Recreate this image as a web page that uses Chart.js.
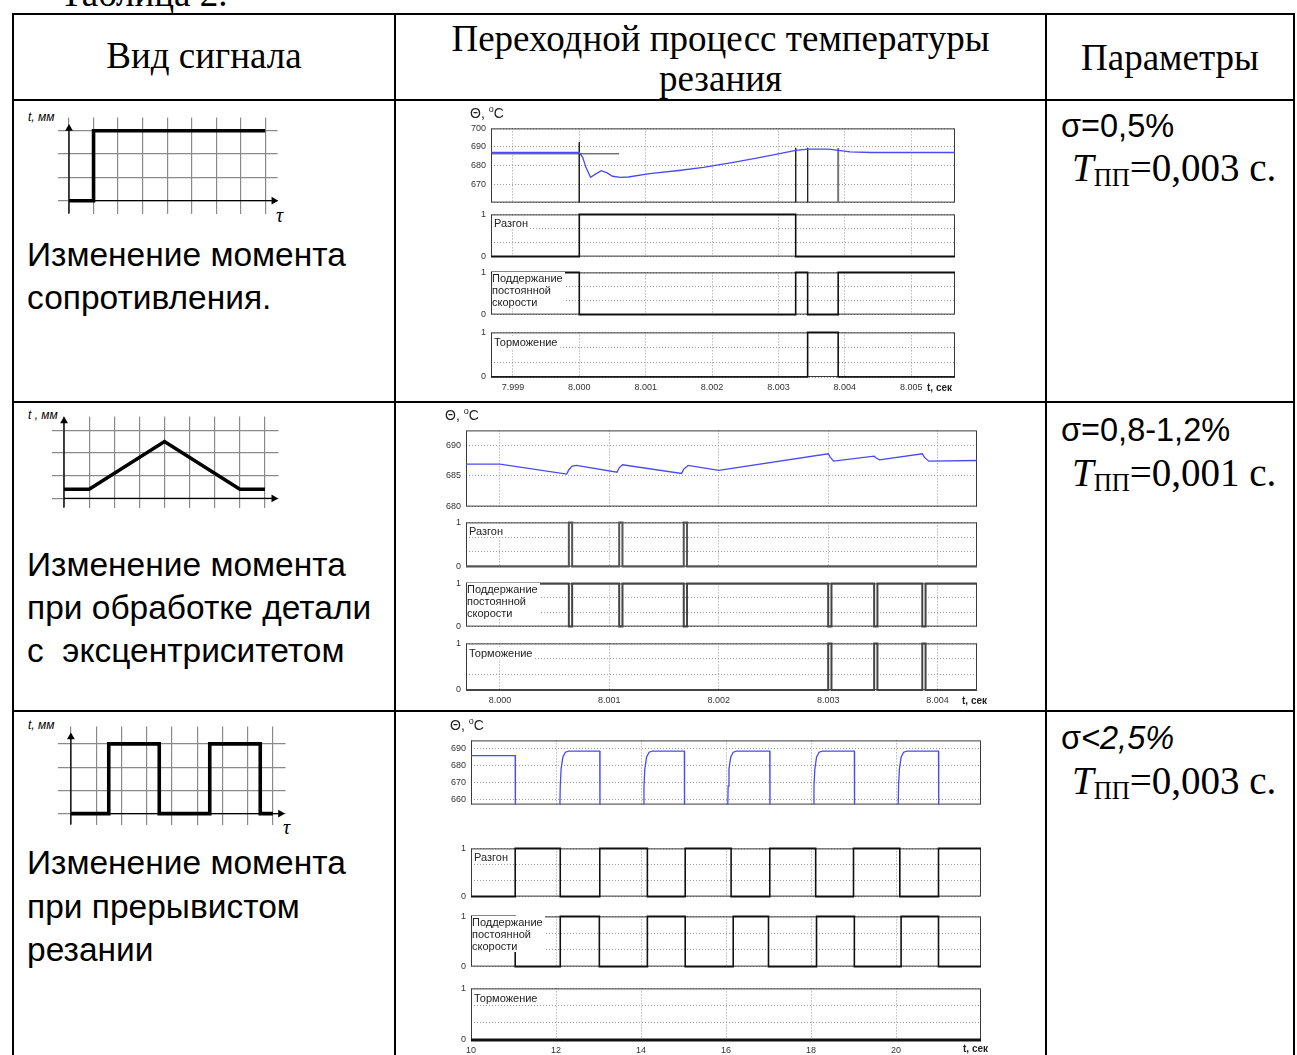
<!DOCTYPE html>
<html>
<head>
<meta charset="utf-8">
<script src="https://cdn.jsdelivr.net/npm/chart.js"></script>
<style>
body{margin:0;background:#fff;width:1297px;height:1055px;overflow:hidden;position:relative;font-family:"Liberation Sans",Arial,sans-serif}
.ln{position:absolute;background:#000}
.t{position:absolute;white-space:nowrap;color:#000;line-height:40px;font-size:33.5px}
.p{font-size:32.5px}
.serif{font-family:"Liberation Serif","Times New Roman",serif;font-size:37px}
.tp{font-size:39px}
.c{text-align:center}
.lbl{position:absolute;font-size:11px;line-height:12px;background:#fff;color:#222;white-space:nowrap;padding-right:2px}
.ax{position:absolute;font-size:14px;color:#222;white-space:nowrap}
.unit{position:absolute;font-size:10px;font-weight:bold;color:#222;white-space:nowrap}
.sk{position:absolute;font-size:12px;font-style:italic;white-space:nowrap}
.tau{position:absolute;font-family:"Liberation Serif",serif;font-style:italic;font-size:20px}
sub{font-size:25px;vertical-align:-5px;font-style:normal}
</style>
</head>
<body>
<div class="t serif" style="left:60px;top:-26px">Таблица 2.</div>

<!-- table lines -->
<div class="ln" style="left:12px;top:13px;width:1283px;height:2px"></div>
<div class="ln" style="left:12px;top:13px;width:2px;height:1042px"></div>
<div class="ln" style="left:394px;top:13px;width:2px;height:1042px"></div>
<div class="ln" style="left:1045px;top:13px;width:2px;height:1042px"></div>
<div class="ln" style="left:1293px;top:13px;width:2px;height:1042px"></div>
<div class="ln" style="left:12px;top:99px;width:1283px;height:2px"></div>
<div class="ln" style="left:12px;top:401px;width:1283px;height:2px"></div>
<div class="ln" style="left:12px;top:710px;width:1283px;height:2px"></div>

<!-- header -->
<div class="t serif c" style="left:14px;width:380px;top:36px">Вид сигнала</div>
<div class="t serif c" style="left:396px;width:649px;top:19px">Переходной процесс температуры</div>
<div class="t serif c" style="left:396px;width:649px;top:59px">резания</div>
<div class="t serif c" style="left:1047px;width:246px;top:38px">Параметры</div>

<!-- left column text -->
<div class="t" style="left:27px;top:235px">Изменение момента</div>
<div class="t" style="left:27px;top:278px">сопротивления.</div>
<div class="t" style="left:27px;top:545px">Изменение момента</div>
<div class="t" style="left:27px;top:588px">при обработке детали</div>
<div class="t" style="left:27px;top:631px">с&nbsp; эксцентриситетом</div>
<div class="t" style="left:27px;top:843px">Изменение момента</div>
<div class="t" style="left:27px;top:887px">при прерывистом</div>
<div class="t" style="left:27px;top:930px">резании</div>

<!-- parameters -->
<div class="t p" style="left:1061px;top:106px">σ=0,5%</div>
<div class="t serif tp" style="left:1072px;top:148px"><i>T</i><sub>ПП</sub>=0,003 с.</div>
<div class="t p" style="left:1061px;top:410px">σ=0,8-1,2%</div>
<div class="t serif tp" style="left:1072px;top:453px"><i>T</i><sub>ПП</sub>=0,001 с.</div>
<div class="t p" style="left:1061px;top:718px">σ<i>&lt;2,5%</i></div>
<div class="t serif tp" style="left:1072px;top:761px"><i>T</i><sub>ПП</sub>=0,003 с.</div>

<!-- sketch labels -->
<div class="sk" style="left:28px;top:110px">t, мм</div>
<div class="tau" style="left:276px;top:204px">τ</div>
<div class="sk" style="left:28px;top:408px">t , мм</div>
<div class="sk" style="left:28px;top:718px">t, мм</div>
<div class="tau" style="left:283px;top:816px">τ</div>

<script>
// ---- sketches of the input signal (grid units) ----
const sk1X = [0, 1, 1, 8];
const sk1Y = [0, 0, 3, 3];
const sk2X = [0, 1, 4, 7, 8];
const sk2Y = [0.4, 0.4, 2.5, 0.4, 0.4];
const sk3X = [0, 1.5, 1.5, 3.5, 3.5, 5.5, 5.5, 7.5, 7.5, 8];
const sk3Y = [0, 0, 3, 3, 0, 0, 3, 3, 0, 0];
const skGridX = [0, 1, 2, 3, 4, 5, 6, 7, 8];
const skGridY = [0, 1, 2, 3];

// ---- row 1: step load change ----
const r1XTicks = [7.999, 8.000, 8.001, 8.002, 8.003, 8.004, 8.005];
const r1XLabels = ['7.999', '8.000', '8.001', '8.002', '8.003', '8.004', '8.005'];
const r1Time = [7.99867, 8.0000, 8.00005, 8.0001, 8.00017, 8.00025, 8.00033, 8.00042, 8.0005, 8.00062, 8.00074, 8.00106, 8.0015, 8.00187, 8.0023, 8.00267, 8.0030, 8.00326, 8.00345, 8.00376, 8.0039, 8.00408, 8.0044, 8.00566];
const r1Temp = [687, 687, 684.5, 679, 673.6, 675.5, 677.2, 676, 674.2, 673.6, 673.8, 675.6, 677.3, 679, 681.6, 684, 686.3, 688.2, 688.8, 688.8, 688.2, 687.3, 687, 687];
const r1RefTime = [7.99867, 8.0006];
const r1RefTemp = [686.3, 686.3];
const r1MarkTime = [8.000, 8.00326, 8.00344, 8.0039];
const r1MarkTop = [692.5, 689.5, 689.5, 689.5];
const r1YTicks = [660, 670, 680, 690, 700];
const r1YLabels = ['', '670', '680', '690', '700'];
const r1RazT = [7.99867, 8.000, 8.00326, 8.00566];
const r1RazV = [0, 1, 0, 0];
const r1PodT = [7.99867, 8.000, 8.00326, 8.00344, 8.0039, 8.00566];
const r1PodV = [1, 0, 1, 0, 1, 1];
const r1TorT = [7.99867, 8.00344, 8.0039, 8.00566];
const r1TorV = [0, 1, 0, 0];

// ---- row 2: eccentric workpiece ----
const r2XTicks = [8.000, 8.001, 8.002, 8.003, 8.004];
const r2XLabels = ['8.000', '8.001', '8.002', '8.003', '8.004'];
const r2Time = [7.99969, 8.0000, 8.00061, 8.00063, 8.00066, 8.0007, 8.00107, 8.00109, 8.00112, 8.00166, 8.00168, 8.00172, 8.002, 8.003, 8.00302, 8.00305, 8.00342, 8.00344, 8.00347, 8.00386, 8.00388, 8.00392, 8.00436];
const r2Temp = [686.9, 686.9, 685.3, 686.0, 686.6, 686.7, 685.6, 686.3, 686.8, 685.4, 686.1, 686.7, 685.9, 688.6, 688.0, 687.4, 688.2, 687.9, 687.6, 688.6, 688.0, 687.4, 687.5];
const r2YTicks = [680, 685, 690];
const r2YLabels = ['680', '685', '690'];
const r2RazT = [7.99969, 8.00063, 8.00066, 8.00109, 8.00112, 8.00168, 8.00171, 8.00436];
const r2RazV = [0, 1, 0, 1, 0, 1, 0, 0];
const r2PodT = [7.99969, 8.00063, 8.00066, 8.00109, 8.00112, 8.00168, 8.00171, 8.003, 8.00303, 8.00342, 8.00345, 8.00386, 8.00389, 8.00436];
const r2PodV = [1, 0, 1, 0, 1, 0, 1, 0, 1, 0, 1, 0, 1, 1];
const r2TorT = [7.99969, 8.003, 8.00303, 8.00342, 8.00345, 8.00386, 8.00389, 8.00436];
const r2TorV = [0, 1, 0, 1, 0, 1, 0, 0];

// ---- row 3: interrupted cutting ----
const r3XTicks = [10, 12, 14, 16, 18, 20];
const r3XLabels = ['10', '12', '14', '16', '18', '20'];
const r3Time = [10, 11.04, 11.045, 12.08, 12.1, 12.12, 12.16, 12.22, 12.3, 13.03, 13.035,
  14.05, 14.07, 14.09, 14.13, 14.19, 14.27, 15.02, 15.025,
  16.03, 16.05, 16.07, 16.11, 16.17, 16.25, 17.03, 17.035,
  18.05, 18.07, 18.09, 18.13, 18.19, 18.27, 19.02, 19.025,
  20.04, 20.06, 20.08, 20.12, 20.18, 20.26, 21.0, 21.005, 22];
const r3Temp = [686, 686, 640, 640, 668, 678, 685, 688, 688.6, 688.6, 640,
  640, 668, 678, 685, 688, 688.6, 688.6, 640,
  640, 668, 678, 685, 688, 688.6, 688.6, 640,
  640, 668, 678, 685, 688, 688.6, 688.6, 640,
  640, 668, 678, 685, 688, 688.6, 688.6, 640, 640];
const r3YTicks = [660, 670, 680, 690];
const r3YLabels = ['660', '670', '680', '690'];
const r3RazT = [10, 11.04, 12.1, 13.03, 14.15, 15.04, 16.12, 17.03, 18.11, 19.0, 20.09, 21.0, 22];
const r3RazV = [0, 1, 0, 1, 0, 1, 0, 1, 0, 1, 0, 1, 1];
const r3PodT = [10, 11.04, 12.1, 13.02, 14.15, 15.04, 16.17, 17.0, 18.13, 19.02, 20.12, 21.0, 22];
const r3PodV = [1, 0, 1, 0, 1, 0, 1, 0, 1, 0, 1, 0, 0];
const r3TorT = [10, 22];
const r3TorV = [0, 0];

const stateTicks = [0, 1 / 3, 2 / 3, 1];
const stateLabels = ['0', '', '', '1'];

Chart.defaults.font.family = '"Liberation Sans", Arial, sans-serif';

function pts(xs, ys) { return xs.map((x, i) => ({x: x, y: ys[i]})); }

function addCanvas(left, top, w, h) {
  const c = document.createElement('canvas');
  c.width = w; c.height = h;
  c.style.cssText = 'position:absolute;left:' + left + 'px;top:' + top + 'px;width:' + w + 'px;height:' + h + 'px';
  document.body.appendChild(c);
  return c;
}

function addText(cls, left, top, txt) {
  const d = document.createElement('div');
  d.className = cls;
  d.style.left = left + 'px'; d.style.top = top + 'px';
  d.innerHTML = txt;
  document.body.appendChild(d);
}

// box round each plot area
const frame = {
  id: 'frame',
  beforeDatasetsDraw(ch) {
    const a = ch.chartArea, c = ch.ctx;
    c.save();
    c.strokeStyle = '#3a3a3a'; c.lineWidth = 1;
    c.strokeRect(a.left + 0.5, a.top + 0.5, a.right - a.left - 1, a.bottom - a.top - 1);
    c.restore();
  }
};

const YW = 30;
const tickFont = {size: 9};

// one sub-plot of a panel; x0..x1, y0..y1 = plot area on the page
function subPlot(g, y0, y1, o) {
  const showX = !!o.showX;
  const padB = showX ? 0 : 7, xh = showX ? 20 : 0;
  const cv = addCanvas(g.x0 - YW, y0 - 7, (g.x1 - g.x0) + YW + 6, (y1 - y0) + 7 + padB + xh);
  return new Chart(cv, {
    type: 'line',
    data: {datasets: o.datasets},
    options: {
      responsive: false, animation: false, events: [],
      layout: {padding: {top: 7, bottom: padB, left: 0, right: 6}},
      plugins: {legend: {display: false}, tooltip: {enabled: false}},
      elements: {point: {radius: 0}, line: {tension: 0}},
      scales: {
        x: {
          type: 'linear', min: g.xMin, max: g.xMax,
          afterBuildTicks: s => { s.ticks = g.xTicks.map(v => ({value: v})); },
          afterFit: s => { s.height = xh; },
          ticks: {display: showX, autoSkip: false, maxRotation: 0, font: tickFont, color: '#333', padding: 5,
                  callback: (v, i) => g.xLabels[i]},
          grid: {color: '#9a9a9a', drawTicks: false},
          border: {display: false, dash: [1, 2]}
        },
        y: {
          min: o.yMin, max: o.yMax,
          afterBuildTicks: s => { s.ticks = o.yTicks.map(v => ({value: v})); },
          afterFit: s => { s.width = YW; },
          ticks: {autoSkip: false, font: tickFont, color: '#333', padding: 5,
                  callback: (v, i) => o.yLabels[i]},
          grid: {color: '#9a9a9a', drawTicks: false},
          border: {display: false, dash: [1, 2]}
        }
      }
    },
    plugins: [frame]
  });
}

function stepSet(ts, vs, color, w) {
  return {data: pts(ts, vs), borderColor: color || '#111', borderWidth: w || 1.6, stepped: true, clip: 2};
}
function tempSet(ts, vs) {
  return {data: pts(ts, vs), borderColor: '#4a4af2', borderWidth: 1.3};
}
function stateOpts(ds, showX) {
  return {yMin: 0, yMax: 1, yTicks: stateTicks, yLabels: stateLabels, datasets: ds, showX: showX};
}

function panel(g, top, subs, temp, sets) {
  subPlot(g, top[0], top[1], temp);
  subPlot(g, subs[0][0], subs[0][1], stateOpts([sets[0]], false));
  subPlot(g, subs[1][0], subs[1][1], stateOpts([sets[1]], false));
  subPlot(g, subs[2][0], subs[2][1], stateOpts([sets[2]], true));
  addText('ax', g.x0 - 21, top[0] - 21, 'Θ, <sup style="font-size:9px">o</sup>C');
  addText('lbl', g.x0 + 3, subs[0][0] + 6, 'Разгон');
  addText('lbl', g.x0 + 1, subs[1][0] + 3, 'Поддержание<br>постоянной<br>скорости');
  addText('lbl', g.x0 + 3, subs[2][0] + 7, 'Торможение');
}

// ---- panel 1 ----
const g1 = {x0: 491, x1: 955, xMin: 7.99867, xMax: 8.00566, xTicks: r1XTicks, xLabels: r1XLabels};
const r1Marks = r1MarkTime.map((t, i) => ({data: pts([t, t], [r1MarkTop[i], 660]), borderColor: i === 3 ? '#777' : '#222', borderWidth: i === 3 ? 2 : 1}));
panel(g1, [125, 206], [[211, 260], [269, 318], [329, 377]],
  {yMin: 660, yMax: 700, yTicks: r1YTicks, yLabels: r1YLabels,
   datasets: [tempSet(r1Time, r1Temp), {data: pts(r1RefTime, r1RefTemp), borderColor: '#333', borderWidth: 1}].concat(r1Marks)},
  [stepSet(r1RazT, r1RazV), stepSet(r1PodT, r1PodV), stepSet(r1TorT, r1TorV)]);
addText('unit', 927, 382, 't, сек');

// ---- panel 2 ----
const g2 = {x0: 466, x1: 977, xMin: 7.99969, xMax: 8.00436, xTicks: r2XTicks, xLabels: r2XLabels};
panel(g2, [427, 510], [[519, 570], [580, 630], [640, 690]],
  {yMin: 680, yMax: 692.4, yTicks: r2YTicks, yLabels: r2YLabels, datasets: [tempSet(r2Time, r2Temp)]},
  [stepSet(r2RazT, r2RazV, '#555', 2), stepSet(r2PodT, r2PodV, '#444', 2), stepSet(r2TorT, r2TorV, '#444', 2)]);
addText('unit', 962, 695, 't, сек');

// ---- panel 3 ----
const g3 = {x0: 471, x1: 981, xMin: 10, xMax: 22, xTicks: r3XTicks, xLabels: r3XLabels};
panel(g3, [737, 808], [[845, 900], [913, 970], [985, 1040]],
  {yMin: 657, yMax: 695, yTicks: r3YTicks, yLabels: r3YLabels, datasets: [tempSet(r3Time, r3Temp)]},
  [stepSet(r3RazT, r3RazV), stepSet(r3PodT, r3PodV), stepSet(r3TorT, r3TorV, '#111', 3)]);
addText('unit', 963, 1043, 't, сек');

// ---- signal sketches ----
function sketch(area, xs, ys, xTip, yTip) {
  const cv = addCanvas(area.left, area.top, area.w, area.h);
  const arrow = (rot) => ({pointRadius: [0, 4.5], pointStyle: 'triangle', pointRotation: rot,
    pointBackgroundColor: '#000', pointBorderWidth: 0, borderColor: '#000', borderWidth: 1.3, clip: false});
  new Chart(cv, {
    type: 'line',
    data: {datasets: [
      {data: pts(xs, ys), borderColor: '#000', borderWidth: 3.6, pointRadius: 0, borderJoinStyle: 'miter'},
      Object.assign({data: pts([0, xTip], [0, 0])}, arrow(90)),
      Object.assign({data: pts([0, 0], [area.yMin, yTip])}, arrow(0))
    ]},
    options: {
      responsive: false, animation: false, events: [],
      layout: {padding: 0},
      plugins: {legend: {display: false}, tooltip: {enabled: false}},
      scales: {
        x: {type: 'linear', min: area.xMin, max: area.xMax,
            afterBuildTicks: s => { s.ticks = skGridX.map(v => ({value: v})); },
            afterFit: s => { s.height = 0; },
            ticks: {display: false}, grid: {color: '#8a8a8a', drawTicks: false, lineWidth: 1.2}, border: {display: false}},
        y: {min: area.yMin, max: area.yMax,
            afterBuildTicks: s => { s.ticks = skGridY.map(v => ({value: v})); },
            afterFit: s => { s.width = 0; },
            ticks: {display: false}, grid: {color: '#8a8a8a', drawTicks: false, lineWidth: 1.2}, border: {display: false}}
      }
    }
  });
}
sketch({left: 53, top: 113, w: 229, h: 105, xMin: -0.47, xMax: 8.5, yMin: -0.55, yMax: 3.57}, sk1X, sk1Y, 8.35, 3.1);
sketch({left: 47, top: 412, w: 236, h: 100, xMin: -0.5, xMax: 8.54, yMin: -0.4, yMax: 3.6}, sk2X, sk2Y, 8.35, 3.4);
sketch({left: 53, top: 722, w: 237, h: 107, xMin: -0.53, xMax: 8.5, yMin: -0.47, yMax: 3.75}, sk3X, sk3Y, 8.3, 3.3);
</script>
</body>
</html>
